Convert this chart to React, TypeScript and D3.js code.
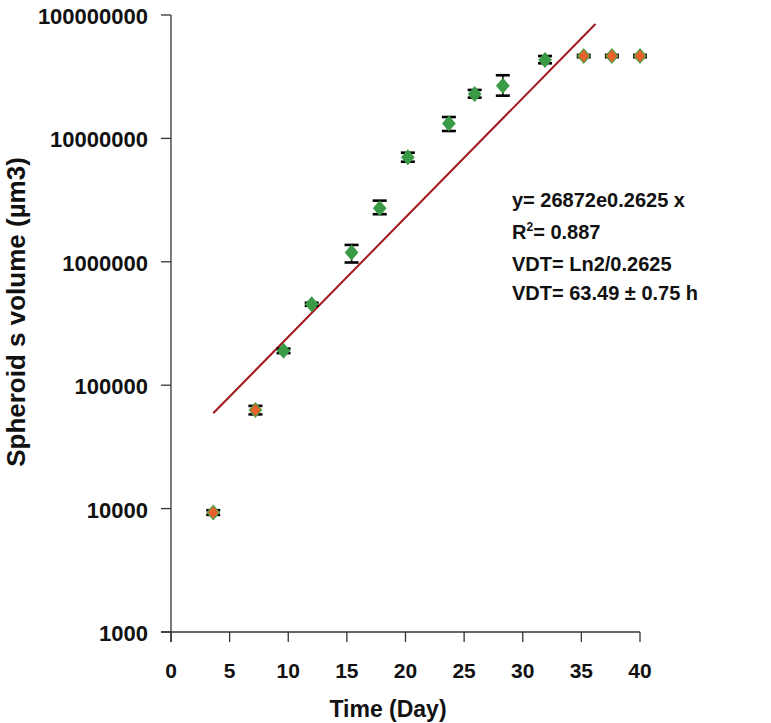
import React from "react";
import * as d3 from "d3";

// Data (x in axis units as drawn, y in µm3)
const days = [3.6, 7.2, 9.6, 12.0, 15.4, 17.8, 20.2, 23.7, 25.9, 28.3, 31.9, 35.2, 37.6, 40.0];
const volumes = [9300, 63000, 190000, 453000, 1190000, 2710000, 7030000, 13200000, 22900000, 26700000, 43200000, 46500000, 46500000, 46500000];
const errLow = [8900, 58000, 182000, 440000, 987000, 2430000, 6470000, 11480000, 21400000, 22200000, 40600000, 45500000, 45500000, 45500000];
const errHigh = [9700, 68000, 198000, 466000, 1370000, 3130000, 7660000, 14900000, 24700000, 32500000, 46500000, 47500000, 47500000, 47500000];
const pointGroup = ["orange", "orange", "green", "green", "green", "green", "green", "green", "green", "green", "green", "orange", "orange", "orange"];

// Exponential trend line end points (straight on log axis)
const trendDays = [3.6, 36.2];
const trendValues = [59200, 84500000];

const xTicks = [0, 5, 10, 15, 20, 25, 30, 35, 40];
const yTicks = [1000, 10000, 100000, 1000000, 10000000, 100000000];

const annotationLines = ["y= 26872e0.2625 x", "R2= 0.887", "VDT= Ln2/0.2625", "VDT= 63.49 ± 0.75 h"];

const FONT = "'Liberation Sans', Arial, Helvetica, sans-serif";

export default function App() {
  const W = 771;
  const H = 723;
  const x = d3.scaleLinear().domain([0, 40]).range([171, 640]);
  const y = d3.scaleLog().domain([1000, 100000000]).range([632, 15]);
  const x0 = x(0);
  const yBase = y(1000);

  const trendPath = d3
    .line<number>()
    .x((_, i) => x(trendDays[i]))
    .y((v) => y(v))(trendValues) as string;

  const diamond = (cx: number, cy: number) =>
    `M${cx},${cy - 7}L${cx + 6},${cy}L${cx},${cy + 7}L${cx - 6},${cy}Z`;

  return (
    <svg
      width={W}
      height={H}
      viewBox={`0 0 ${W} ${H}`}
      style={{ position: "absolute", left: 0, top: 0, background: "#fff" }}
      fontFamily={FONT}
    >
      {/* axes */}
      <line x1={x0} x2={x0} y1={y(100000000)} y2={yBase + 10} stroke="#333" strokeWidth={1.3} />
      <line x1={x0 - 10} x2={x(40)} y1={yBase} y2={yBase} stroke="#333" strokeWidth={1.3} />
      {yTicks.map((t) => (
        <g key={"y" + t}>
          <line x1={x0 - 10} x2={x0} y1={y(t)} y2={y(t)} stroke="#333" strokeWidth={1.3} />
          <text x={148} y={y(t) + 9} textAnchor="end" fontSize={22} fontWeight="bold" fill="#111">
            {String(t)}
          </text>
        </g>
      ))}
      {xTicks.map((t) => (
        <g key={"x" + t}>
          <line x1={x(t)} x2={x(t)} y1={yBase} y2={yBase + 10} stroke="#333" strokeWidth={1.3} />
          <text x={x(t)} y={678} textAnchor="middle" fontSize={21} fontWeight="bold" fill="#111">
            {String(t)}
          </text>
        </g>
      ))}
      <text x={388} y={717} textAnchor="middle" fontSize={23} fontWeight="bold" fill="#111">
        Time (Day)
      </text>
      <text
        transform="translate(25,312) rotate(-90)"
        textAnchor="middle"
        fontSize={26}
        fontWeight="bold"
        fill="#111"
      >
        Spheroid s volume (µm3)
      </text>

      {/* trend line */}
      <path d={trendPath} fill="none" stroke="#a3181c" strokeWidth={2} />

      {/* error bars */}
      {days.map((d, i) => {
        const cx = x(d);
        const yl = y(errLow[i]);
        const yh = y(errHigh[i]);
        return (
          <g key={"e" + i} stroke="#000">
            <line x1={cx} x2={cx} y1={yh} y2={yl} strokeWidth={1.6} />
            <line x1={cx - 7} x2={cx + 7} y1={yh} y2={yh} strokeWidth={2.6} />
            <line x1={cx - 7} x2={cx + 7} y1={yl} y2={yl} strokeWidth={2.6} />
          </g>
        );
      })}

      {/* points */}
      {days.map((d, i) => (
        <path
          key={"p" + i}
          d={diamond(x(d), y(volumes[i]))}
          fill={pointGroup[i] === "orange" ? "#e8612c" : "#3a9a46"}
          stroke={pointGroup[i] === "orange" ? "#5f9a44" : "#3a9a46"}
          strokeWidth={1.3}
        />
      ))}

      {/* annotation */}
      <g fontSize={20} fontWeight="bold" fill="#111">
        <text x={512} y={207}>{annotationLines[0]}</text>
        <text x={512} y={239}>
          R<tspan fontSize={12} dy={-8}>2</tspan>
          <tspan dy={8}>= 0.887</tspan>
        </text>
        <text x={512} y={271}>{annotationLines[2]}</text>
        <text x={512} y={300}>{annotationLines[3]}</text>
      </g>
    </svg>
  );
}
